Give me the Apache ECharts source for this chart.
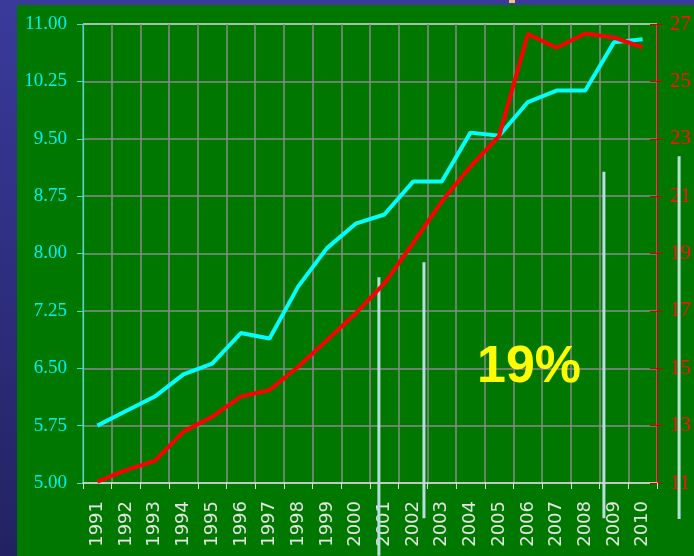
<!DOCTYPE html>
<html>
<head>
<meta charset="utf-8">
<script src="https://cdn.jsdelivr.net/npm/echarts@6/dist/echarts.min.js"></script>
<style>
html, body { margin: 0; padding: 0; }
#main { width: 694px; height: 556px; }
</style>
</head>
<body>
<div id="main"></div>
<script>
var years = ['1991', '1992', '1993', '1994', '1995', '1996', '1997', '1998', '1999', '2000',
             '2001', '2002', '2003', '2004', '2005', '2006', '2007', '2008', '2009', '2010'];
// cyan line, left axis
var leftValues = [5.75, 5.94, 6.13, 6.42, 6.56, 6.96, 6.89, 7.57, 8.07, 8.39,
                  8.51, 8.94, 8.94, 9.58, 9.54, 9.98, 10.13, 10.13, 10.76, 10.80];
// red line, right axis
var rightValues = [11.05, 11.45, 11.77, 12.79, 13.31, 14.01, 14.24, 15.05, 15.98, 16.91,
                   17.96, 19.36, 20.81, 22.03, 23.1, 26.65, 26.17, 26.67, 26.53, 26.19];
var leftAxis = { min: 5, max: 11, step: 0.75 };
var rightAxis = { min: 11, max: 27, step: 2 };
// pale vertical strokes: [year position, top value, bottom value] (left axis units)
var paleStrokes = [[2000.81, 7.69, 4.05], [2002.38, 7.885, 4.54], [2008.65, 9.07, 4.54], [2011.27, 9.27, 4.53]];
var note = '19%';

var chart = echarts.init(document.getElementById('main'));

var gridColors = ['#8a8a8a', '#8a8a8a', '#8a8a8a', '#8a8a8a', '#8a8a8a', '#8a8a8a', '#8a8a8a', '#8a8a8a', '#d8d8d8'];

var option = {
    backgroundColor: new echarts.graphic.LinearGradient(0, 0, 0, 1, [
        { offset: 0, color: '#3a3a9c' },
        { offset: 1, color: '#222262' }
    ]),
    animation: false,
    grid: { left: 83, right: 34, top: 24, bottom: 73 },
    graphic: [
        { type: 'rect', left: 17, top: 5, shape: { width: 677, height: 551 }, style: { fill: '#007800' }, z: -10, silent: true },
        { type: 'rect', left: 509, top: 0, shape: { width: 6, height: 3 }, style: { fill: '#f4c47a' }, z: -5, silent: true },
        { type: 'text', left: 477, top: 342, style: { text: note, fill: '#ffff00', font: 'bold 52px "Liberation Sans", Arial, sans-serif' }, z: 10 }
    ],
    xAxis: [{
        type: 'category',
        data: years,
        boundaryGap: true,
        axisLine: { lineStyle: { color: '#e0e0e0', width: 1.5 } },
        axisTick: { show: true, length: 6, lineStyle: { color: '#e0e0e0' } },
        splitLine: { show: true, lineStyle: { color: '#8a8a8a', width: 1.5 } },
        axisLabel: {
            rotate: 90,
            margin: 18,
            color: '#e4e4e4',
            fontSize: 18,
            fontFamily: 'DejaVu Sans'
        }
    }, {
        type: 'value',
        min: 1990.5,
        max: 2010.5,
        show: false
    }],
    yAxis: [{
        type: 'value',
        position: 'left',
        min: leftAxis.min,
        max: leftAxis.max,
        interval: leftAxis.step,
        axisLine: { show: true, lineStyle: { color: '#30e8c8', width: 1.2 } },
        axisTick: { show: true, length: 6, lineStyle: { color: '#30e8c8' } },
        splitLine: { show: true, lineStyle: { color: gridColors, width: 1.5 } },
        axisLabel: {
            margin: 16,
            color: '#00f0f0',
            fontSize: 19,
            fontFamily: 'Liberation Serif'
        ,
            formatter: function (v) { return v.toFixed(2); }
        }
    }, {
        type: 'value',
        position: 'right',
        min: rightAxis.min,
        max: rightAxis.max,
        interval: rightAxis.step,
        axisLine: { show: true, lineStyle: { color: '#d40000', width: 1.2 } },
        axisTick: { show: true, length: 6, lineStyle: { color: '#d40000' } },
        splitLine: { show: false },
        axisLabel: {
            margin: 13,
            color: '#ff1010',
            fontSize: 21,
            fontFamily: 'Liberation Serif'
        }
    }, {
        // inner half of the red ticks
        type: 'value',
        position: 'right',
        min: rightAxis.min,
        max: rightAxis.max,
        interval: rightAxis.step,
        axisLine: { show: false },
        axisTick: { show: true, inside: true, length: 7, lineStyle: { color: '#d40000' } },
        splitLine: { show: false },
        axisLabel: { show: false }
    }],
    series: [{
        name: 'strokes',
        type: 'custom',
        xAxisIndex: 1,
        yAxisIndex: 0,
        clip: false,
        z: 1,
        silent: true,
        data: paleStrokes,
        renderItem: function (params, api) {
            var p1 = api.coord([api.value(0), api.value(1)]);
            var p2 = api.coord([api.value(0), api.value(2)]);
            return {
                type: 'line',
                shape: { x1: p1[0], y1: p1[1], x2: p2[0], y2: p2[1] },
                style: { stroke: '#b6dede', lineWidth: 3 }
            };
        }
    }, {
        name: 'left',
        type: 'line',
        yAxisIndex: 0,
        data: leftValues,
        showSymbol: false,
        z: 3,
        lineStyle: { color: '#00ffff', width: 4 }
    }, {
        name: 'right',
        type: 'line',
        yAxisIndex: 1,
        data: rightValues,
        showSymbol: false,
        z: 4,
        lineStyle: { color: '#ff0000', width: 4 }
    }]
};

chart.setOption(option);
</script>
</body>
</html>
